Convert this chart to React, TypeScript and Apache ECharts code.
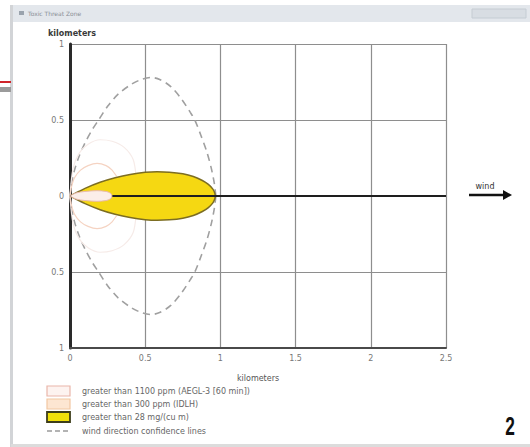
import React, { useEffect, useRef } from "react";
import * as echarts from "echarts";

// ---- data (kilometers) ----
const xTickLabels = ["0", "0.5", "1", "1.5", "2", "2.5"];
const yTickLabels = ["1", "0.5", "0", "0.5", "1"];

const confidenceUpper: [number, number][] = [
  [0, 0], [0.01, 0.08], [0.03, 0.17], [0.06, 0.26], [0.1, 0.35], [0.15, 0.44],
  [0.19, 0.5], [0.25, 0.59], [0.32, 0.67], [0.4, 0.73], [0.47, 0.765], [0.54, 0.78],
  [0.6, 0.765], [0.67, 0.72], [0.74, 0.64], [0.8, 0.55], [0.83, 0.5], [0.87, 0.4],
  [0.91, 0.29], [0.94, 0.18], [0.96, 0.08], [0.97, 0],
];
const confidenceLower: [number, number][] = [
  [0, 0], [0.01, -0.08], [0.03, -0.17], [0.06, -0.26], [0.1, -0.35], [0.15, -0.44],
  [0.19, -0.5], [0.25, -0.59], [0.32, -0.67], [0.4, -0.73], [0.47, -0.765], [0.54, -0.78],
  [0.6, -0.765], [0.67, -0.72], [0.74, -0.64], [0.8, -0.55], [0.83, -0.5], [0.87, -0.4],
  [0.91, -0.29], [0.94, -0.18], [0.96, -0.08], [0.97, 0],
];

const plumeUpper: [number, number][] = [
  [0, 0], [0.03, 0.015], [0.1, 0.05], [0.2, 0.09], [0.3, 0.12], [0.4, 0.142],
  [0.5, 0.156], [0.58, 0.16], [0.66, 0.157], [0.75, 0.146], [0.82, 0.128],
  [0.88, 0.102], [0.92, 0.076], [0.95, 0.045], [0.963, 0.018], [0.966, 0],
];
const plumeLower: [number, number][] = [
  [0, 0], [0.03, -0.015], [0.1, -0.05], [0.2, -0.09], [0.3, -0.12], [0.4, -0.142],
  [0.5, -0.156], [0.58, -0.16], [0.66, -0.157], [0.75, -0.146], [0.82, -0.128],
  [0.88, -0.102], [0.92, -0.076], [0.95, -0.045], [0.963, -0.018], [0.966, 0],
];

const aeglUpper: [number, number][] = [
  [0, 0], [0.04, 0.02], [0.1, 0.03], [0.18, 0.035], [0.24, 0.03], [0.27, 0.018], [0.28, 0],
];
const aeglLower: [number, number][] = [
  [0, 0], [0.04, -0.02], [0.1, -0.03], [0.18, -0.035], [0.24, -0.03], [0.27, -0.018], [0.28, 0],
];

const idlhUpper: [number, number][] = [
  [0, 0], [0.01, 0.06], [0.03, 0.12], [0.07, 0.17], [0.12, 0.2], [0.18, 0.215],
  [0.24, 0.2], [0.28, 0.17], [0.31, 0.13],
];
const idlhLower: [number, number][] = [
  [0, 0], [0.01, -0.06], [0.03, -0.12], [0.07, -0.17], [0.12, -0.2], [0.18, -0.215],
  [0.24, -0.2], [0.28, -0.17], [0.31, -0.13],
];

const idlhOuterUpper: [number, number][] = [
  [0, 0], [0.02, 0.18], [0.06, 0.28], [0.12, 0.34], [0.2, 0.37], [0.28, 0.36],
  [0.36, 0.32], [0.42, 0.24], [0.44, 0.12], [0.445, 0],
];
const idlhOuterLower: [number, number][] = [
  [0, 0], [0.02, -0.18], [0.06, -0.28], [0.12, -0.34], [0.2, -0.37], [0.28, -0.36],
  [0.36, -0.32], [0.42, -0.24], [0.44, -0.12], [0.445, 0],
];

const legendLabels = [
  "greater than 1100 ppm (AEGL-3 [60 min])",
  "greater than 300 ppm (IDLH)",
  "greater than 28 mg/(cu m)",
  "wind direction confidence lines",
];

const FONT = "DejaVu Sans, Verdana, sans-serif";

export default function App() {
  const ref = useRef<HTMLDivElement>(null);
  useEffect(() => {
    if (!ref.current) return;
    const chart = echarts.init(ref.current, null, { renderer: "svg" });

    const lineBase = { type: "line", showSymbol: false, symbol: "none", silent: true, smooth: 0.3 };
    const dashed = {
      ...lineBase,
      lineStyle: { color: "#a0a0a0", width: 1.6, type: [7, 5] },
      z: 2,
    };
    const outer = { ...lineBase, lineStyle: { color: "#f6ebe8", width: 1.2 }, z: 2 };
    const idlh = { ...lineBase, lineStyle: { color: "#f5d3c2", width: 1.2 }, z: 3 };
    const plume = {
      ...lineBase,
      lineStyle: { color: "#7c6d22", width: 1.5 },
      areaStyle: { color: "#f5d812", opacity: 1 },
      z: 4,
    };
    const aegl = {
      ...lineBase,
      lineStyle: { color: "#e9b9ad", width: 1 },
      areaStyle: { color: "#fbeee9", opacity: 1 },
      z: 5,
    };

    const legendY = [391, 404, 417, 431];
    const graphics: any[] = [
      // window frame
      { type: "rect", shape: { x: 11, y: 5, width: 530, height: 17 }, style: { fill: "#e3e7ec" }, silent: true },
      { type: "rect", shape: { x: 10, y: 5, width: 3, height: 442 }, style: { fill: "#d2d4d7" }, silent: true },
      { type: "rect", shape: { x: 11, y: 444, width: 530, height: 3 }, style: { fill: "#dcdcdc" }, silent: true },
      { type: "text", x: 28, y: 13, style: { text: "Toxic Threat Zone", fill: "#8a8f96", font: `6px ${FONT}`, verticalAlign: "middle" }, silent: true },
      { type: "rect", shape: { x: 19, y: 11, width: 5, height: 4 }, style: { fill: "#9aa3ad" }, silent: true },
      { type: "rect", shape: { x: 472, y: 9, width: 54, height: 9 }, style: { fill: "#d8dde3", stroke: "#c5ccd3", lineWidth: 1 }, silent: true },
      { type: "line", shape: { x1: 0, y1: 82, x2: 11, y2: 82 }, style: { stroke: "#d0242a", lineWidth: 2 }, silent: true },
      { type: "rect", shape: { x: 0, y: 87, width: 11, height: 5 }, style: { fill: "#9b9b9b" }, silent: true },
      // axis names
      { type: "text", x: 48, y: 33, style: { text: "kilometers", fill: "#3a3a3a", font: `bold 8px ${FONT}`, verticalAlign: "middle" }, silent: true },
      // wind arrow
      { type: "text", x: 485, y: 186, style: { text: "wind", fill: "#333", font: `8px ${FONT}`, align: "center", verticalAlign: "middle" }, silent: true },
      { type: "line", shape: { x1: 469, y1: 195, x2: 505, y2: 195 }, style: { stroke: "#111", lineWidth: 2.5 }, silent: true },
      { type: "polygon", shape: { points: [[503, 190], [512, 195], [503, 200]] }, style: { fill: "#111" }, silent: true },
      // page number
      {
        type: "text", x: 510, y: 426, scaleX: 0.72, scaleY: 1.05,
        style: { text: "2", fill: "#111", font: `bold 24px "Liberation Sans", "DejaVu Sans", sans-serif`, align: "center", verticalAlign: "middle" },
        silent: true,
      },
    ];
    // legend swatches
    graphics.push(
      { type: "rect", shape: { x: 47, y: legendY[0] - 5, width: 23, height: 10 }, style: { fill: "#fdf3f0", stroke: "#eab6aa", lineWidth: 1.2 }, silent: true },
      { type: "rect", shape: { x: 47, y: legendY[1] - 5, width: 23, height: 10 }, style: { fill: "#fde6d2", stroke: "#f2c7a2", lineWidth: 1.2 }, silent: true },
      { type: "rect", shape: { x: 47, y: legendY[2] - 5, width: 23, height: 10 }, style: { fill: "#f0e00a", stroke: "#3d3d1a", lineWidth: 1.8 }, silent: true },
      { type: "line", shape: { x1: 47, y1: legendY[3], x2: 70, y2: legendY[3] }, style: { stroke: "#9a9a9a", lineWidth: 1.5, lineDash: [5, 3] }, silent: true },
    );
    legendLabels.forEach((t, i) => {
      graphics.push({
        type: "text", x: 82, y: legendY[i],
        style: { text: t, fill: "#666", font: `8px ${FONT}`, verticalAlign: "middle" }, silent: true,
      });
    });

    chart.setOption({
      animation: false,
      backgroundColor: "#ffffff",
      grid: { left: 70, right: 84, top: 44, bottom: 99, containLabel: false },
      xAxis: {
        type: "value", min: 0, max: 2.5, interval: 0.5,
        name: "kilometers", nameLocation: "middle", nameGap: 26,
        nameTextStyle: { color: "#555", fontSize: 8, fontFamily: FONT },
        axisLine: { show: true, onZero: false, lineStyle: { color: "#4a4a4a", width: 2 } },
        axisTick: { show: false },
        axisLabel: {
          color: "#777", fontSize: 8, fontFamily: FONT, margin: 6,
          formatter: (v: number) => xTickLabels[Math.round(v / 0.5)] ?? String(v),
        },
        splitLine: { show: true, lineStyle: { color: "#8e8e8e", width: 1.2 } },
      },
      yAxis: {
        type: "value", min: -1, max: 1, interval: 0.5,
        axisLine: { show: true, onZero: false, lineStyle: { color: "#2a2a2a", width: 3 } },
        axisTick: { show: false },
        axisLabel: {
          color: "#777", fontSize: 8, fontFamily: FONT, margin: 6,
          formatter: (v: number) => yTickLabels[Math.round((1 - v) / 0.5)] ?? String(v),
        },
        splitLine: { show: true, lineStyle: { color: "#8e8e8e", width: 1.2 } },
      },
      graphic: graphics,
      series: [
        { ...dashed, name: legendLabels[3], data: confidenceUpper },
        { ...dashed, name: legendLabels[3] + " (lower)", data: confidenceLower },
        { ...outer, name: "outer upper", data: idlhOuterUpper },
        { ...outer, name: "outer lower", data: idlhOuterLower },
        { ...idlh, name: legendLabels[1], data: idlhUpper },
        { ...idlh, name: legendLabels[1] + " (lower)", data: idlhLower },
        { ...plume, name: legendLabels[2], data: plumeUpper },
        { ...plume, name: legendLabels[2] + " (lower)", data: plumeLower },
        { ...aegl, name: legendLabels[0], data: aeglUpper },
        {
          ...aegl, name: legendLabels[0] + " (lower)", data: aeglLower,
          markLine: {
            silent: true, symbol: "none", label: { show: false },
            lineStyle: { color: "#1e1e1e", width: 2, type: "solid" },
            data: [{ yAxis: 0 }],
          },
        },
      ],
    });
    return () => chart.dispose();
  }, []);

  return (
    <div
      ref={ref}
      style={{ position: "absolute", left: 0, top: 0, width: 530, height: 447 }}
    />
  );
}
